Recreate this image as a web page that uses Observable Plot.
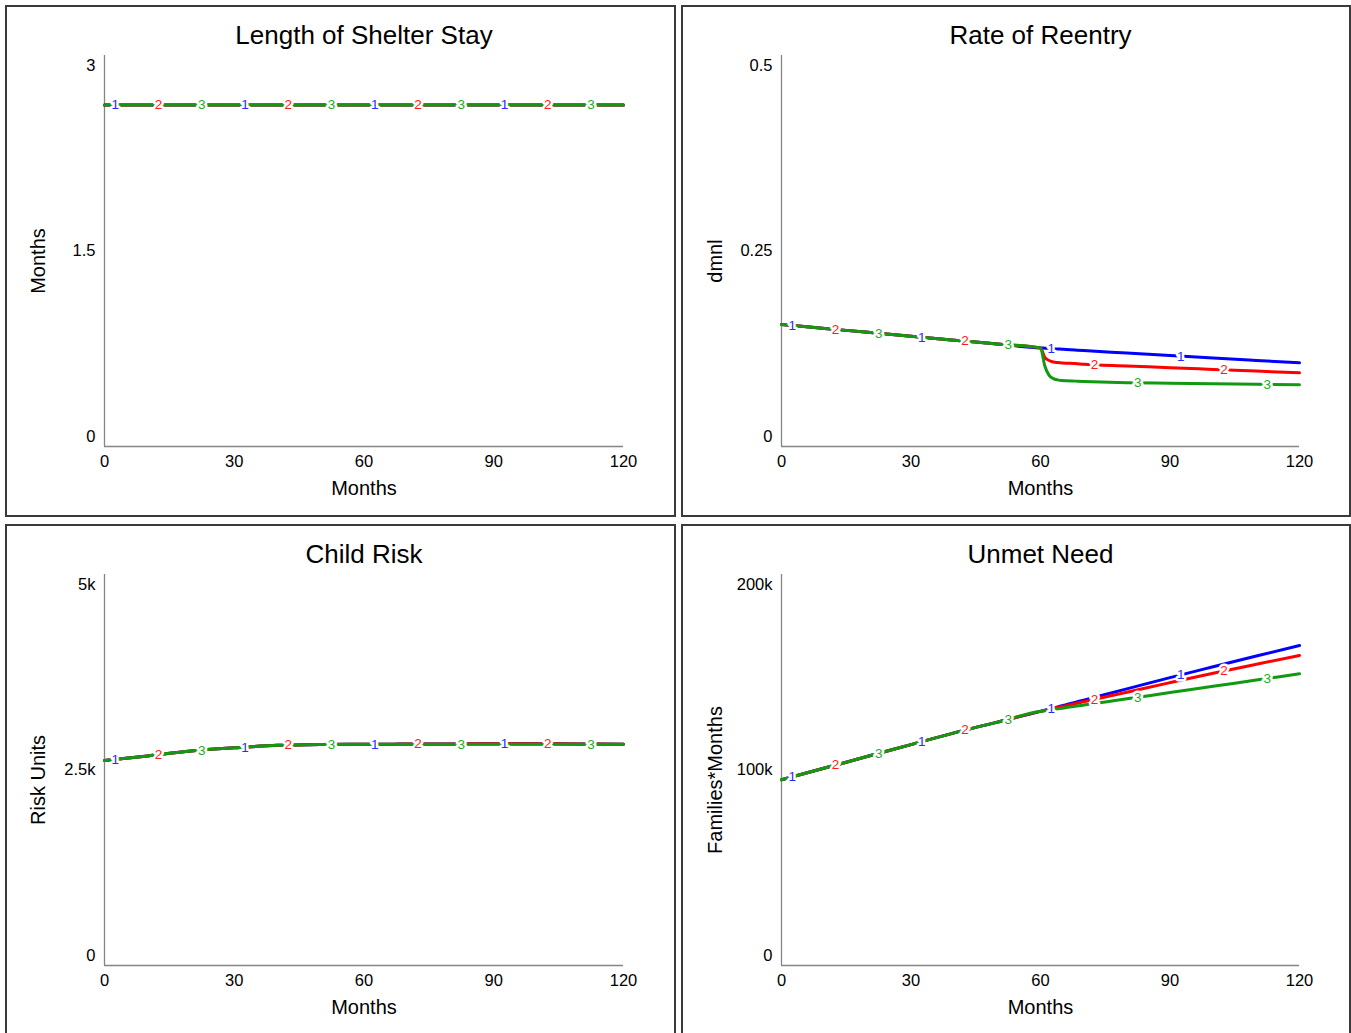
<!DOCTYPE html>
<html>
<head>
<meta charset="utf-8">
<script src="https://cdn.jsdelivr.net/npm/d3@7"></script>
<script src="https://cdn.jsdelivr.net/npm/@observablehq/plot@0.6"></script>
<style>
html,body{margin:0;padding:0;background:#fff;}
body{width:1351px;height:1033px;overflow:hidden;position:relative;font-family:"Liberation Sans",Arial,sans-serif;}
.panel{position:absolute;box-sizing:border-box;border:2px solid #3a3a3a;background:#fff;}
.panel svg{position:absolute;left:0;top:0;}
</style>
</head>
<body>
<script>
// ---------- data ----------
const months = [0,10,20,30,40,50,60,61,62,63,64,65,66,68,70,80,90,100,110,120];
const xTicks = [0,30,60,90,120];
const labelMonths = [2.5,12.5,22.5,32.5,42.5,52.5,62.5,72.5,82.5,92.5,102.5,112.5];
const seriesNames = ["1","2","3"];

const shelter1 = [2.62,2.62,2.62,2.62,2.62,2.62,2.62,2.62,2.62,2.62,2.62,2.62,2.62,2.62,2.62,2.62,2.62,2.62,2.62,2.62];
const shelter2 = [2.62,2.62,2.62,2.62,2.62,2.62,2.62,2.62,2.62,2.62,2.62,2.62,2.62,2.62,2.62,2.62,2.62,2.62,2.62,2.62];
const shelter3 = [2.62,2.62,2.62,2.62,2.62,2.62,2.62,2.62,2.62,2.62,2.62,2.62,2.62,2.62,2.62,2.62,2.62,2.62,2.62,2.62];
const shelterTicks = [0,1.5,3];

const reentry1 = [0.156,0.151,0.146,0.141,0.136,0.131,0.126,0.1257,0.1254,0.1250,0.1247,0.1244,0.1241,0.1234,0.1227,0.1195,0.1163,0.1131,0.1100,0.1070];
const reentry2 = [0.156,0.151,0.146,0.141,0.136,0.131,0.126,0.114,0.110,0.108,0.1073,0.1068,0.1065,0.1060,0.1051,0.1029,0.1008,0.0986,0.0964,0.0942];
const reentry3 = [0.156,0.151,0.146,0.141,0.136,0.131,0.126,0.103,0.091,0.0868,0.0852,0.0843,0.0840,0.0836,0.0832,0.0816,0.0809,0.0802,0.0795,0.0789];
const reentryTicks = [0,0.25,0.5];

const risk1 = [2620,2680,2742,2783,2815,2827,2830,2830,2830,2830,2830,2830,2830,2831,2832,2834,2836,2836,2834,2830];
const risk2 = [2620,2680,2742,2783,2815,2827,2830,2830,2830,2830,2830,2830,2830,2831,2832,2834,2836,2836,2834,2830];
const risk3 = [2620,2680,2742,2783,2815,2827,2830,2830,2830,2830,2830,2830,2830,2830,2830,2830,2830,2830,2830,2830];
const riskTicks = [0,2500,5000];

const unmet1 = [95000,101000,107000,113000,119000,124500,130000,130575,131150,131725,132300,132875,133450,134600,135750,141500,147250,152800,158300,163700];
const unmet2 = [95000,101000,107000,113000,119000,124500,130000,130490,130980,131470,131960,132450,132940,133920,134900,139800,144700,149500,154100,158600];
const unmet3 = [95000,101000,107000,113000,119000,124500,130000,130320,130640,130960,131280,131600,131920,132560,133200,136400,139600,142800,146000,149200];
const unmetTicks = [0,100000,200000];

// ---------- styling ----------
const lineColors = ["#0000ff","#ff0000","#119911"];
const labelColors = ["#2a2aff","#ff1a1a","#22aa22"];
const FONT = '"Liberation Sans", Arial, sans-serif';

function interp(xs, ys, t) {
  for (let i = 0; i < xs.length - 1; i++) {
    if (t >= xs[i] && t <= xs[i+1]) {
      const f = (t - xs[i]) / (xs[i+1] - xs[i]);
      return ys[i] + f * (ys[i+1] - ys[i]);
    }
  }
  return ys[ys.length - 1];
}
const fmt = d => d >= 1000 ? (d/1000) + "k" : String(d);

const panels = [
  {title:"Length of Shelter Stay", yLabel:"Months", ticks:shelterTicks, series:[shelter1,shelter2,shelter3], left:5, top:5, w:671, ml:97},
  {title:"Rate of Reentry", yLabel:"dmnl", ticks:reentryTicks, series:[reentry1,reentry2,reentry3], left:681, top:5, w:670, ml:98},
  {title:"Child Risk", yLabel:"Risk Units", ticks:riskTicks, series:[risk1,risk2,risk3], left:5, top:524, w:671, ml:97},
  {title:"Unmet Need", yLabel:"Families*Months", ticks:unmetTicks, series:[unmet1,unmet2,unmet3], left:681, top:524, w:670, ml:98}
];

for (const p of panels) {
  const div = document.createElement("div");
  div.className = "panel";
  div.style.left = p.left + "px";
  div.style.top = p.top + "px";
  div.style.width = p.w + "px";
  div.style.height = "512px";
  document.body.appendChild(div);

  const W = p.w - 4, H = 508;
  const plotW = 519 - (p.ml - 97);
  const yMax = p.ticks[p.ticks.length - 1];

  const marks = [
    Plot.ruleX([0], {stroke:"#858585", strokeWidth:1.3}),
    Plot.ruleY([0], {stroke:"#858585", strokeWidth:1.3})
  ];
  p.series.forEach((vals, s) => {
    const rows = months.map((m, i) => ({month:m, value:vals[i]}));
    marks.push(Plot.line(rows, {x:"month", y:"value", stroke:lineColors[s], strokeWidth:3, curve:"monotone-x"}));
  });
  const labelRows = labelMonths.map((m, i) => ({
    month:m, series:i % 3, text:seriesNames[i % 3],
    value: interp(months, p.series[i % 3], m)
  }));
  for (let s = 0; s < 3; s++) {
    marks.push(Plot.text(labelRows.filter(d => d.series === s), {
      x:"month", y:"value", text:"text", fill:labelColors[s],
      stroke:"white", strokeWidth:5, fontSize:13.5, fontFamily:FONT
    }));
  }
  // axes
  marks.push(Plot.axisX(xTicks, {tickSize:0, tickPadding:9, fontSize:16.5, label:null, fontFamily:FONT, fill:"#000"}));
  marks.push(Plot.axisY([p.ticks[2]], {tickSize:0, tickPadding:9, dy:10, fontSize:16.5, tickFormat:fmt, label:null, fontFamily:FONT, fill:"#000"}));
  marks.push(Plot.axisY([p.ticks[1]], {tickSize:0, tickPadding:9, fontSize:16.5, tickFormat:fmt, label:null, fontFamily:FONT, fill:"#000"}));
  marks.push(Plot.axisY([p.ticks[0]], {tickSize:0, tickPadding:9, dy:-10, fontSize:16.5, tickFormat:fmt, label:null, fontFamily:FONT, fill:"#000"}));
  // titles / axis labels
  marks.push(Plot.text([p.title], {frameAnchor:"top", lineAnchor:"middle", dy:-20, fontSize:26, fontFamily:FONT, fill:"#000"}));
  marks.push(Plot.text(["Months"], {frameAnchor:"bottom", lineAnchor:"middle", dy:42, fontSize:20, fontFamily:FONT, fill:"#000"}));
  marks.push(Plot.text([p.yLabel], {frameAnchor:"left", textAnchor:"middle", lineAnchor:"middle", rotate:-90, dx:-66, dy:10, fontSize:20, fontFamily:FONT, fill:"#000"}));

  const chart = Plot.plot({
    width: W, height: H,
    marginLeft: p.ml, marginRight: W - p.ml - plotW,
    marginTop: 48, marginBottom: H - 48 - 391,
    x: {domain:[0,120]},
    y: {domain:[0,yMax]},
    style: {fontFamily: FONT, fontSize: "16.5px", color: "#000", background: "transparent", overflow: "visible"},
    marks
  });
  div.appendChild(chart);
}
</script>
</body>
</html>
